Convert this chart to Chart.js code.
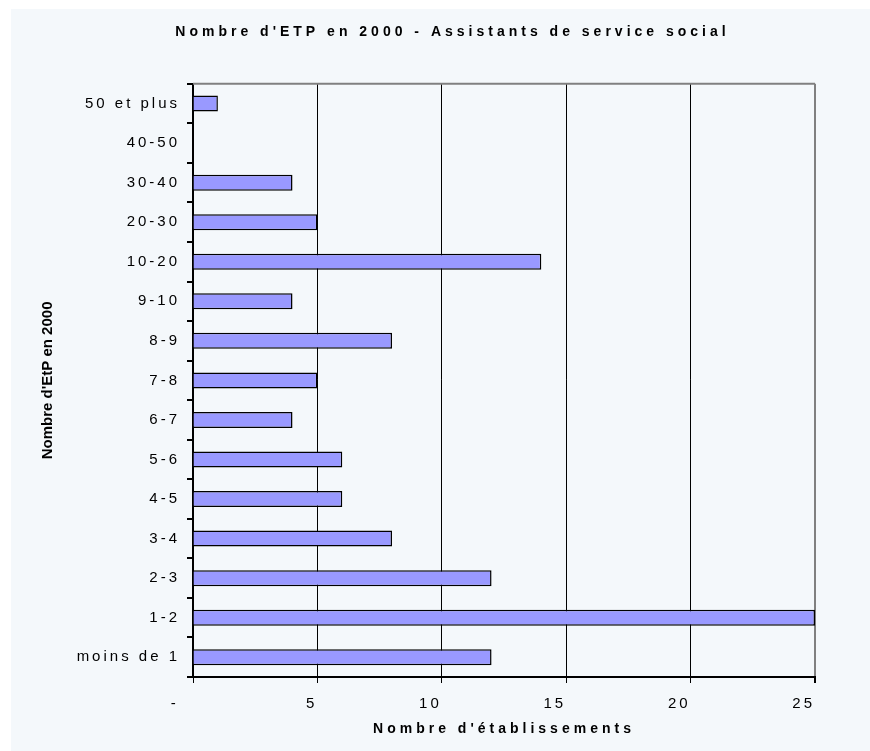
<!DOCTYPE html>
<html>
<head>
<meta charset="utf-8">
<script src="https://cdn.jsdelivr.net/npm/chart.js@4"></script>
<style>
  html, body { margin: 0; padding: 0; background: #ffffff; }
  #wrap { position: relative; width: 870px; height: 751px; }
  #bg { position: absolute; left: 11px; top: 9px; right: 0; bottom: 0; background: #F4F8FB; }
  #c { position: absolute; left: 0; top: 0; }
</style>
</head>
<body>
<div id="wrap">
  <div id="bg"></div>
  <canvas id="c" width="870" height="751"></canvas>
</div>
<script>
// ---- data ----
const categories = ['50 et plus', '40-50', '30-40', '20-30', '10-20', '9-10', '8-9', '7-8', '6-7', '5-6', '4-5', '3-4', '2-3', '1-2', 'moins de 1'];
const values = [1, 0, 4, 5, 14, 4, 8, 5, 4, 6, 6, 8, 12, 25, 12];
const xMin = 0;
const xMax = 25;
const xStep = 5;
const titleText = "Nombre d'ETP en 2000 - Assistants de service social";
const xTitleText = "Nombre d'établissements";
const yTitleText = "Nombre d'EtP en 2000";
const zeroLabel = '-  ';

const FONT = "'Liberation Sans', Arial, sans-serif";
const TITLE_LEFT_INSET = 90;

function wrapSpacing(obj, method, sp) {
  const orig = obj[method];
  obj[method] = function (...args) {
    const c = this.ctx;
    const prev = c.letterSpacing;
    c.letterSpacing = sp;
    const r = orig.apply(this, args);
    c.letterSpacing = prev;
    return r;
  };
}

const spacingPlugin = {
  id: 'spacing',
  afterLayout(chart) {
    if (chart.titleBlock) { chart.titleBlock.left = TITLE_LEFT_INSET; }
  },
  beforeDraw(chart) {
    chart.ctx.letterSpacing = '4px';
    const x = chart.scales.x, y = chart.scales.y;
    if (!x._wrapped) { wrapSpacing(x, 'drawLabels', '3px'); x._wrapped = true; }
    if (!y._wrapped) { wrapSpacing(y, 'drawLabels', '3px'); wrapSpacing(y, 'drawTitle', '0px'); y._wrapped = true; }
  }
};

const topBorderPlugin = {
  id: 'topBorder',
  afterDatasetsDraw(chart) {
    const {ctx, chartArea} = chart;
    ctx.save();
    ctx.strokeStyle = '#808080';
    ctx.lineWidth = 2;
    ctx.beginPath();
    ctx.moveTo(chartArea.left, chartArea.top);
    ctx.lineTo(chartArea.right, chartArea.top);
    ctx.stroke();
    ctx.restore();
  }
};

new Chart(document.getElementById('c'), {
  type: 'bar',
  data: {
    labels: categories,
    datasets: [{
      data: values,
      backgroundColor: '#9999FF',
      borderColor: '#000000',
      borderWidth: (ctx) => (ctx.raw === 0 ? 0 : 1.5),
      barPercentage: 0.405,
      categoryPercentage: 1
    }]
  },
  options: {
    indexAxis: 'y',
    responsive: false,
    devicePixelRatio: 1,
    animation: false,
    layout: { padding: { left: 0, right: 55, top: 0, bottom: 0 } },
    plugins: {
      legend: { display: false },
      tooltip: { enabled: false },
      title: {
        display: true,
        text: titleText,
        color: '#000000',
        font: { family: FONT, size: 14, weight: 'bold' },
        padding: { top: 24, bottom: 43 }
      }
    },
    scales: {
      x: {
        min: xMin,
        max: xMax,
        afterFit(scale) { scale.height = 74; },
        ticks: {
          stepSize: xStep,
          align: 'end',
          padding: 12,
          color: '#000000',
          font: { family: FONT, size: 15 },
          callback: (v) => (v === 0 ? zeroLabel : String(v))
        },
        grid: {
          color: (ctx) => (ctx.tick && ctx.tick.value === xMax ? '#808080' : '#000000'),
          lineWidth: (ctx) => (ctx.tick && ctx.tick.value === xMax ? 2 : 1),
          tickColor: '#000000',
          tickLength: 6,
          drawTicks: true
        },
        border: { display: true, color: '#000000', width: 2 },
        title: {
          display: true,
          text: xTitleText,
          color: '#000000',
          font: { family: FONT, size: 14, weight: 'bold' },
          padding: { top: 0, bottom: 13 }
        }
      },
      y: {
        afterFit(scale) { scale.width = 193; },
        ticks: {
          autoSkip: false,
          padding: 7,
          color: '#000000',
          font: { family: FONT, size: 15 }
        },
        grid: {
          drawOnChartArea: false,
          drawTicks: true,
          tickLength: 6,
          color: '#000000',
          lineWidth: 2,
          offset: true
        },
        border: { display: true, color: '#000000', width: 2 },
        title: {
          display: true,
          text: yTitleText,
          color: '#000000',
          font: { family: FONT, size: 15, weight: 'bold' },
          padding: { top: 38.5, bottom: 0 }
        }
      }
    }
  },
  plugins: [spacingPlugin, topBorderPlugin]
});
</script>
</body>
</html>
